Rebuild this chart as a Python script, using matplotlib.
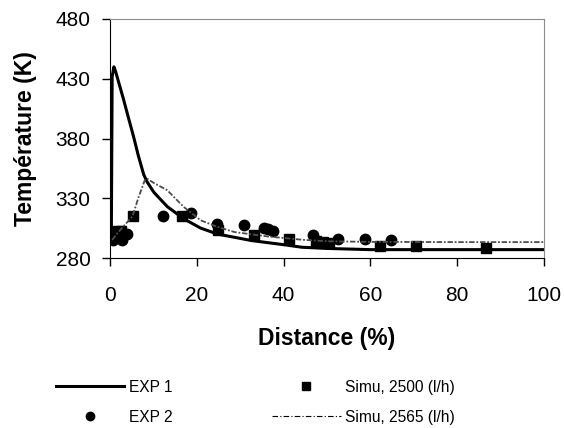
import matplotlib
matplotlib.use("Agg")
import matplotlib.pyplot as plt

plt.rcParams['font.family'] = ['Liberation Sans', 'DejaVu Sans']

# EXP 1 : courbe continue epaisse
exp1_x = [0.3, 0.5, 0.9, 1.3, 2.0, 3.1, 4.2, 5.4, 6.5, 7.75, 8.5, 10.1, 13.2, 17, 20.9,
          24.8, 32.6, 40.3, 44.2, 50, 60, 80, 100]
exp1_y = [293, 432, 440, 436, 427, 413, 398, 382, 366, 350, 344, 335, 323, 312.8, 305,
          300, 294.6, 291, 289, 288, 287, 287, 287]

# EXP 2 : points
exp2_x = [0.8, 2.7, 3.9, 12.2, 18.6, 24.7, 30.8, 35.5, 36.4, 37.6, 46.7, 48, 52.6, 58.8, 64.7]
exp2_y = [295, 295, 300, 315, 318, 308.7, 308, 305, 304, 303, 299, 293, 296, 296, 294.7]

# Simu, 2500 (l/h) : carres
s2500_x = [1.5, 2.5, 5.2, 16.7, 24.8, 33.2, 41.3, 47.5, 49, 50.5, 62.2, 70.4, 86.6]
s2500_y = [303, 303, 315, 315, 303.7, 299, 296, 294, 293, 292.5, 289.7, 289.7, 288]

# Simu, 2565 (l/h) : tirets
s2565_x = [0.5, 1.5, 3, 5.2, 6.5, 8, 8.5, 10, 13.2, 17, 20.9, 24.8, 28.7, 36.4,
           44.2, 50, 60, 80, 100]
s2565_y = [295, 300, 306, 315, 330, 345, 346.5, 343, 336.7, 322.7, 311.5, 306, 301.7, 298,
           295.3, 294, 293.5, 293.3, 293.3]

fig = plt.figure(figsize=(5.64, 4.28), dpi=100)
ax = fig.add_axes([110 / 564, 1 - 258 / 428, 434 / 564, 239 / 428])

l1, = ax.plot(exp1_x, exp1_y, '-', color='black', lw=2.2, label='EXP 1')
l2, = ax.plot(exp2_x, exp2_y, 'o', color='black', ms=7.5, ls='none', label='EXP 2')
l3, = ax.plot(s2500_x, s2500_y, 's', color='black', ms=7.5, ls='none', label='Simu, 2500 (l/h)')
l4, = ax.plot(s2565_x, s2565_y, color='0.3', lw=1.3, ls=(0, (3, 1, 1, 1)),
              label='Simu, 2565 (l/h)')

ax.set_xlim(0, 100)
ax.set_ylim(280, 480)
ax.set_xticks([0, 20, 40, 60, 80, 100])
ax.set_yticks([280, 330, 380, 430, 480])
ax.tick_params(axis='both', labelsize=15, length=6, width=1, direction='out')
ax.tick_params(axis='x', pad=14)
ax.tick_params(axis='y', pad=8)

for s in ['top', 'right']:
    ax.spines[s].set_color('0.55')
for s in ['left', 'bottom']:
    ax.spines[s].set_color('black')

ax.set_xlabel('Distance (%)', fontsize=16.5, fontweight='bold', labelpad=16)
ax.set_ylabel('Température (K)', fontsize=16.5, fontweight='bold', labelpad=13)

# legende sous le graphique, handles en noir fin
h4 = plt.Line2D([], [], color='black', lw=0.8, ls=(0, (5, 2, 1, 2)))
fig.legend(handles=[l1, l2, l3, h4],
           labels=['EXP 1', 'EXP 2', 'Simu, 2500 (l/h)', 'Simu, 2565 (l/h)'],
           ncol=2, frameon=False, fontsize=11.2,
           loc='upper left', bbox_to_anchor=(48 / 564, 1 - 372 / 428),
           borderpad=0, handlelength=4.4, handletextpad=0.3,
           columnspacing=6.4, labelspacing=0.95, markerscale=0.8)

fig.savefig('out.png', dpi=100)
